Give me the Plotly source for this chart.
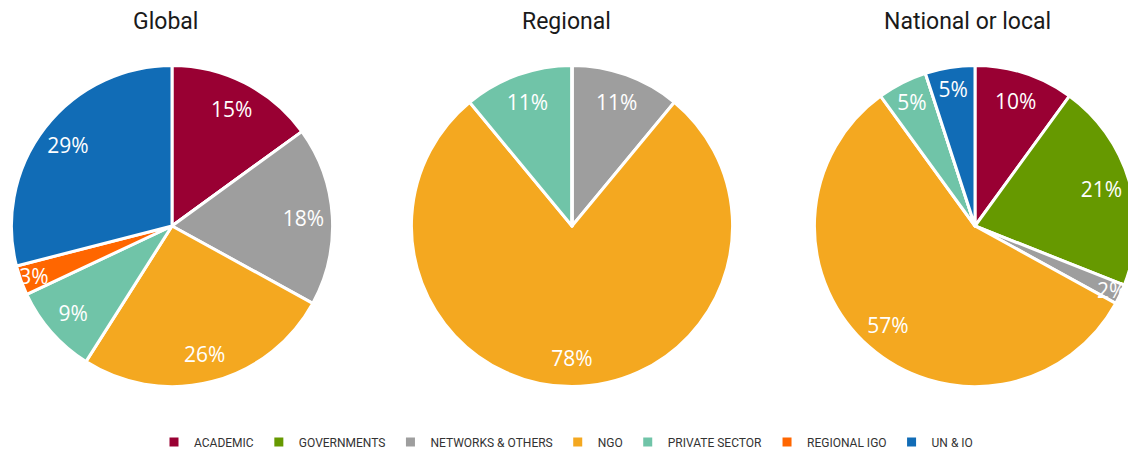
import plotly.graph_objects as go

# ---- data ----
categories = ["ACADEMIC", "GOVERNMENTS", "NETWORKS & OTHERS", "NGO",
              "PRIVATE SECTOR", "REGIONAL IGO", "UN & IO"]
colors = ["#990033", "#669900", "#9E9E9E", "#F4A820", "#70C4A8", "#FF6600", "#116CB6"]
global_pct = [15, 0, 18, 26, 9, 3, 29]
regional_pct = [0, 0, 11, 78, 11, 0, 0]
national_pct = [10, 21, 2, 57, 5, 0, 5]
titles = ["Global", "Regional", "National or local"]
series = [global_pct, regional_pct, national_pct]

# ---- layout geometry (pixels) ----
W, H = 1140, 457
centers = [172, 572, 975]
title_x = [165, 566, 967]
R = 162
CY = 228

fig = go.Figure()
for i, vals in enumerate(series):
    c = centers[i]
    dom = dict(x=[(c - R) / W, (c + R) / W],
               y=[1 - (CY + R) / H, 1 - (CY - R) / H])
    # colored full pie with white separators
    fig.add_trace(go.Pie(
        labels=categories, values=vals, sort=False, direction="clockwise",
        rotation=0, domain=dom, textinfo="none",
        marker=dict(colors=colors, line=dict(color="white", width=3)),
        showlegend=(i == 0), hoverinfo="label+percent", name=titles[i],
    ))
    # transparent ring carrying the percentage labels (Excel-like placement)
    fig.add_trace(go.Pie(
        labels=categories, values=vals, sort=False, direction="clockwise",
        rotation=0, domain=dom, hole=0.64,
        marker=dict(colors=["rgba(0,0,0,0)"] * len(categories), line=dict(width=0)),
        texttemplate=["%{percent:.0%}" if v > 0 else "" for v in vals],
        textposition="inside", insidetextorientation="horizontal",
        insidetextfont=dict(color="white", size=21, family="Open Sans"),
        showlegend=False, hoverinfo="skip",
    ))

annotations = []
for i, t in enumerate(titles):
    annotations.append(dict(
        text=t, x=title_x[i] / W, y=1 - 22 / H, xref="paper", yref="paper",
        xanchor="center", yanchor="middle", showarrow=False,
        font=dict(family="Roboto", size=23, color="#1a1a1a"),
    ))

fig.update_layout(
    width=W, height=H,
    margin=dict(l=0, r=0, t=0, b=0),
    paper_bgcolor="white", plot_bgcolor="white",
    annotations=annotations,
    uniformtext=dict(minsize=21, mode="show"),
    legend=dict(orientation="h", x=566 / W, xanchor="center",
                y=1 - 446 / H, yanchor="middle",
                font=dict(family="Roboto", size=12, color="#333333"),
                traceorder="normal"),
)

fig.write_html(
    "out.html",
    config={"displayModeBar": False},
    post_script="document.body.style.margin='0';document.body.style.overflow='hidden';",
)
